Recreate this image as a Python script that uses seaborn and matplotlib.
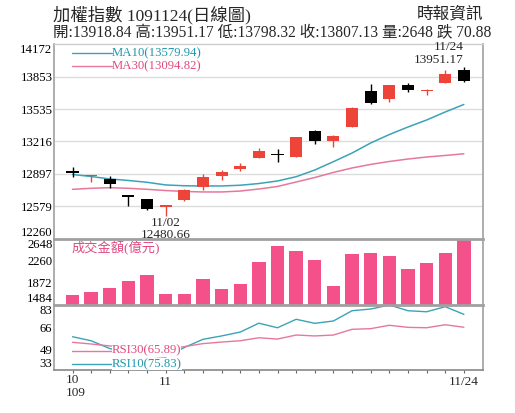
import matplotlib
matplotlib.use("Agg")
import matplotlib.pyplot as plt
import matplotlib.transforms as mtransforms
import seaborn as sns
import numpy as np
import pandas as pd

dates = ['10/26','10/27','10/28','10/29','10/30','11/02','11/03','11/04','11/05','11/06','11/09',
         '11/10','11/11','11/12','11/13','11/16','11/17','11/18','11/19','11/20','11/23','11/24']
opens = [12915, 12876, 12847, 12689, 12647, 12568, 12640, 12768, 12876, 12948, 13050,
         13085, 13066, 13322, 13220, 13358, 13715, 13631, 13772, 13710, 13794, 13918.84]
closes = [12910, 12884, 12794, 12673, 12548, 12591, 12738, 12866, 12913, 12974, 13125,
          13081, 13257, 13220, 13270, 13550, 13591, 13771, 13722, 13725, 13877, 13807.13]
highs = [12968, 12888, 12876, 12692, 12652, 12595, 12745, 12896, 12935, 13001, 13149,
         13142, 13262, 13328, 13275, 13555, 13778, 13775, 13788, 13730, 13919, 13951.17]
lows = [12869, 12820, 12755, 12581, 12540, 12480.66, 12632, 12738, 12837, 12925, 13050,
        13017, 13060, 13191, 13164, 13355, 13588, 13607, 13700, 13673, 13790, 13798.32]
ma10 = [12891, 12871, 12847, 12832, 12814, 12788, 12780, 12778, 12778, 12785, 12802,
        12827, 12869, 12935, 13017, 13102, 13201, 13284, 13358, 13427, 13506, 13579.94]
ma30 = [12745, 12755, 12761, 12755, 12745, 12733, 12724, 12719, 12719, 12728, 12748,
        12773, 12817, 12861, 12911, 12955, 12990, 13019, 13043, 13063, 13078, 13094.82]
volume = [1655, 1713, 1789, 1902, 2008, 1673, 1683, 1943, 1772, 1854, 2242,
          2519, 2436, 2272, 1819, 2378, 2396, 2348, 2107, 2213, 2396, 2648]
rsi10 = [58.6, 55.5, 49.5, 46.0, 43.8, 43.0, 50.3, 56.6, 59.2, 62.2, 69.0,
         65.5, 72.0, 68.9, 70.7, 78.6, 79.9, 83.0, 78.6, 77.8, 81.7, 75.83]
rsi30 = [54.3, 53.0, 51.5, 50.5, 49.5, 49.0, 51.0, 53.3, 54.5, 55.5, 57.8,
         56.8, 59.9, 59.2, 59.9, 64.3, 64.8, 67.4, 65.8, 65.5, 67.8, 65.89]

price_ticks = [12260, 12579, 12897, 13216, 13535, 13853, 14172]
vol_ticks = [1484, 1872, 2260, 2648]
rsi_ticks = [33, 49, 66, 83]
first_xlabel = '10\n109'
xtick_labels = {5: '11', 21: '11/24'}

title_text = '加權指數 1091124(日線圖)'
info_text = '開:13918.84 高:13951.17 低:13798.32 收:13807.13 量:2648 跌 70.88'
source_text = '時報資訊'
vol_label = '成交金額(億元)'

sns.set_theme(style='white')
plt.rcParams['font.family'] = ['Liberation Serif', 'Noto Sans CJK TC', 'DejaVu Sans']

RED = '#EE4338'
BLACK = '#000000'
TEAL = '#3BA3B8'
TEAL_T = '#1F97AE'
PINK = '#E6789C'
PINK_T = '#E04A80'
BAR = '#F4518A'
GRAY = '#A0A0A0'

df = pd.DataFrame({'i': np.arange(len(dates)), 'date': dates, 'open': opens, 'close': closes,
                   'high': highs, 'low': lows, 'ma10': ma10, 'ma30': ma30,
                   'vol': volume, 'rsi10': rsi10, 'rsi30': rsi30})

W, H = 515, 413
fig = plt.figure(figsize=(W / 100, H / 100), dpi=100)


def rect(l, t, r, b):
    return [l / W, 1 - b / H, (r - l) / W, (b - t) / H]


L, R = 53.5, 482.5
ax1 = fig.add_axes(rect(L, 44.3, R, 238.6))
ax2 = fig.add_axes(rect(L, 238.6, R, 305))
ax3 = fig.add_axes(rect(L, 305, R, 370))

xlim = (-1.02, 22.0)
FS = 9.5
LFS = 9.2

# ---- price panel ----
up = df['close'] >= df['open']
cols = [RED if u else BLACK for u in up]
ax1.vlines(df['i'], df['low'], df['high'], colors=cols, lw=1, zorder=3)
bottoms = np.minimum(df['open'], df['close'])
heights = np.maximum(np.abs(df['close'] - df['open']), 12)
ax1.bar(df['i'], heights, bottom=bottoms, width=0.65, color=cols, zorder=4, linewidth=0)
sns.lineplot(data=df, x='i', y='ma10', ax=ax1, color=TEAL, lw=1.1, zorder=2)
sns.lineplot(data=df, x='i', y='ma30', ax=ax1, color=PINK, lw=1.1, zorder=2)
ax1.set_xlim(*xlim)
ax1.set_ylim(price_ticks[0], price_ticks[-1])
ax1.set_yticks(price_ticks)
ax1.set_yticklabels([str(v) for v in price_ticks])
for v in price_ticks[1:-1]:
    ax1.axhline(v, color='#DCDCDC', lw=1, zorder=0)
ax1.set_xticks([])
ax1.set_xlabel('')
ax1.set_ylabel('')

ax1.plot([0.043, 0.1357], [0.954, 0.954], transform=ax1.transAxes, color=TEAL, lw=1)
ax1.text(0.1357, 0.954, 'MA10(%.2f)' % ma10[-1], transform=ax1.transAxes, color=TEAL_T,
         fontsize=LFS, va='center', ha='left')
ax1.plot([0.043, 0.1357], [0.888, 0.888], transform=ax1.transAxes, color=PINK, lw=1)
ax1.text(0.1357, 0.888, 'MA30(%.2f)' % ma30[-1], transform=ax1.transAxes, color=PINK_T,
         fontsize=LFS, va='center', ha='left')

ax1.text(21, 14148, dates[-1], ha='right', va='center', fontsize=FS, zorder=6)
ax1.text(21, 14017, '%.2f' % highs[-1], ha='right', va='center', fontsize=FS, zorder=6)
imin = int(np.argmin(lows))
ax1.text(imin, 12417, dates[imin], ha='center', va='center', fontsize=FS, zorder=6)
ax1.text(imin, 12295, '%.2f' % lows[imin], ha='center', va='center', fontsize=FS, zorder=6,
         clip_on=False)

# ---- volume panel ----
sns.barplot(data=df, x='i', y='vol', ax=ax2, color=BAR, width=0.72, saturation=1,
            linewidth=0, zorder=2)
ax2.set_xlim(*xlim)
ax2.set_ylim(vol_ticks[0], vol_ticks[-1])
ax2.set_yticks(vol_ticks)
ax2.set_yticklabels([str(v) for v in vol_ticks])
ax2.set_xticks([])
ax2.set_xlabel('')
ax2.set_ylabel('')
ax2.text(0.043, 0.863, vol_label, transform=ax2.transAxes, color=PINK_T, fontsize=FS,
         ha='left', va='center')

# ---- RSI panel ----
sns.lineplot(data=df, x='i', y='rsi10', ax=ax3, color=TEAL, lw=1, zorder=2)
sns.lineplot(data=df, x='i', y='rsi30', ax=ax3, color=PINK, lw=1, zorder=2)
ax3.set_xlim(*xlim)
ax3.set_ylim(rsi_ticks[0], rsi_ticks[-1])
ax3.set_yticks(rsi_ticks)
ax3.set_yticklabels([str(v) for v in rsi_ticks])
ax3.set_xticks(df['i'])
ax3.set_xticklabels([xtick_labels.get(i, '') for i in df['i']])
ax3.set_xlabel('')
ax3.set_ylabel('')
blend = mtransforms.blended_transform_factory(ax3.transData, ax3.transAxes)
ax3.text(0, -0.065, first_xlabel, transform=blend + mtransforms.ScaledTranslation(-6.3 / 100, 0, fig.dpi_scale_trans),
         ha='left', va='top', fontsize=FS, linespacing=1.1)
ax3.plot([0.043, 0.1357], [0.297, 0.297], transform=ax3.transAxes, color=PINK, lw=1)
ax3.text(0.1357, 0.297, 'RSI30(%.2f)' % rsi30[-1], transform=ax3.transAxes, color=PINK_T,
         fontsize=LFS, va='center', ha='left', zorder=5,
         bbox=dict(facecolor='white', edgecolor='none', pad=0))
ax3.plot([0.043, 0.1357], [0.092, 0.092], transform=ax3.transAxes, color=TEAL, lw=1)
ax3.text(0.1357, 0.092, 'RSI10(%.2f)' % rsi10[-1], transform=ax3.transAxes, color=TEAL_T,
         fontsize=LFS, va='center', ha='left', zorder=5,
         bbox=dict(facecolor='white', edgecolor='none', pad=0))

# ---- styling ----
for ax in (ax1, ax2, ax3):
    ax.set_facecolor('white')
    ax.grid(False)
    ax.tick_params(axis='y', length=0, pad=0.8, labelsize=9.2, colors='black')
    for s in ('left', 'right'):
        ax.spines[s].set_color(GRAY)
        ax.spines[s].set_linewidth(1.2)
    labels = ax.get_yticklabels()
    labels[0].set_va('bottom')
    labels[-1].set_va('top')
ax1.spines['top'].set_color('#CCCCCC')
ax1.spines['top'].set_linewidth(1)
ax1.spines['bottom'].set_color(GRAY)
ax1.spines['bottom'].set_linewidth(2)
ax2.spines['top'].set_visible(False)
ax2.spines['bottom'].set_color(GRAY)
ax2.spines['bottom'].set_linewidth(2)
ax3.spines['top'].set_visible(False)
ax3.spines['bottom'].set_color('#888888')
ax3.spines['bottom'].set_linewidth(1.2)
ax3.tick_params(axis='x', direction='out', length=2.5, width=0.8, color='#666666',
                labelsize=FS, pad=2, bottom=True)
ax2.set_zorder(1)
ax1.set_zorder(2)
ax1.patch.set_alpha(0)

fig.text(53 / W, 1 - 15 / H, title_text, fontsize=12.5, ha='left', va='center')
fig.text(53 / W, 1 - 33 / H, info_text, fontsize=11.2, ha='left', va='center')
fig.text(483 / W, 1 - 15 / H, source_text, fontsize=12, ha='right', va='center')

fig.savefig('out.png', dpi=100, facecolor='white')
